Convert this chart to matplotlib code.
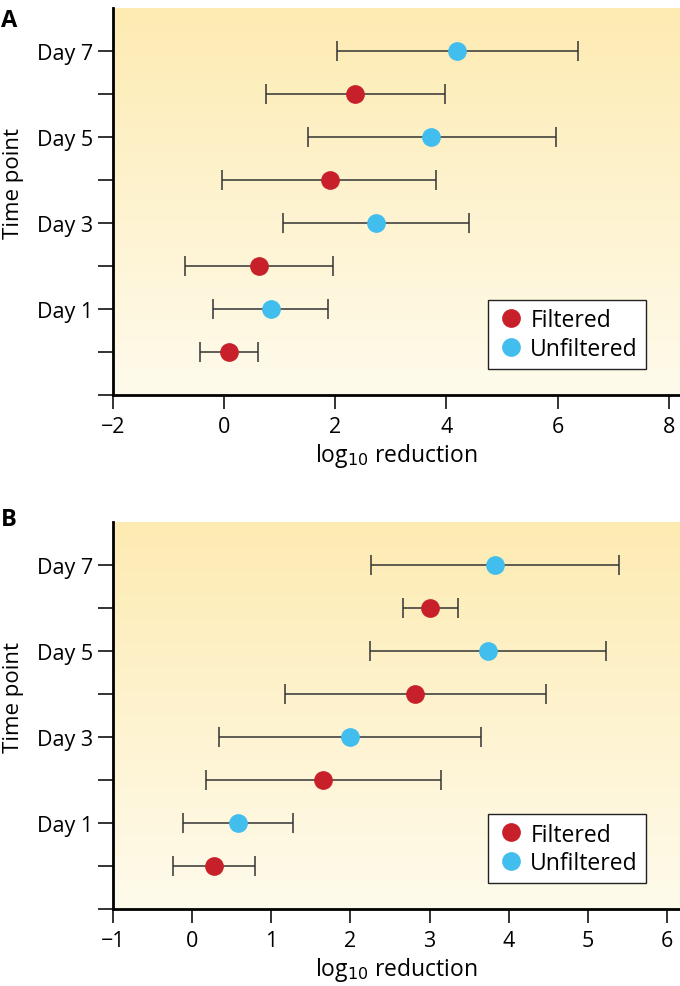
import numpy as np
import matplotlib
matplotlib.use("Agg")
import matplotlib.pyplot as plt
from matplotlib.lines import Line2D
from matplotlib.colors import LinearSegmentedColormap

plt.rcParams['font.family'] = ['Open Sans', 'DejaVu Sans']

# ---- data ----
ytick_labels = ["", "", "Day 1", "", "Day 3", "", "Day 5", "", "Day 7"]

# Panel A
a_filt_y = [1, 3, 5, 7]
a_filt_x = [0.10, 0.63, 1.90, 2.36]
a_filt_lo = [-0.43, -0.70, -0.03, 0.75]
a_filt_hi = [0.62, 1.97, 3.81, 3.98]
a_unf_y = [2, 4, 6, 8]
a_unf_x = [0.84, 2.73, 3.73, 4.19]
a_unf_lo = [-0.19, 1.07, 1.51, 2.03]
a_unf_hi = [1.87, 4.41, 5.97, 6.36]

# Panel B
b_filt_y = [1, 3, 5, 7]
b_filt_x = [0.28, 1.65, 2.82, 3.01]
b_filt_lo = [-0.24, 0.18, 1.17, 2.66]
b_filt_hi = [0.80, 3.14, 4.47, 3.36]
b_unf_y = [2, 4, 6, 8]
b_unf_x = [0.58, 2.00, 3.74, 3.82]
b_unf_lo = [-0.11, 0.34, 2.25, 2.26]
b_unf_hi = [1.27, 3.65, 5.23, 5.39]

RED = "#c8202a"
BLUE = "#41bdee"
ERR = "#333333"

fig = plt.figure(figsize=(6.8, 9.87), dpi=100)

cmap = LinearSegmentedColormap.from_list("bg", ["#fffbec", "#fdebb2"])


def panel(ax, xlim, xticks, fy, fx, flo, fhi, uy, ux, ulo, uhi):
    ax.set_xlim(*xlim)
    ax.set_ylim(0, 9)
    grad = np.linspace(0, 1, 256).reshape(-1, 1)
    ax.imshow(grad, cmap=cmap, origin="lower", aspect="auto",
              extent=[xlim[0], xlim[1], 0, 9], zorder=0)
    for ys, xs, lo, hi, c in [(fy, fx, flo, fhi, RED), (uy, ux, ulo, uhi, BLUE)]:
        xs = np.array(xs); lo = np.array(lo); hi = np.array(hi)
        ax.errorbar(xs, ys, xerr=[xs - lo, hi - xs], fmt="none", ecolor=ERR,
                    elinewidth=1.1, capsize=7, capthick=1.1, zorder=2)
        ax.plot(xs, ys, "o", color=c, markersize=13.5, markeredgewidth=0, zorder=3)
    ax.set_yticks(range(9))
    ax.set_yticklabels(ytick_labels, fontsize=15.5)
    ax.set_xticks(xticks)
    ax.set_xticklabels([str(t).replace("-", "\u2212") for t in xticks], fontsize=15.5)
    for s in ["top", "right"]:
        ax.spines[s].set_visible(False)
    for s in ["left", "bottom"]:
        ax.spines[s].set_linewidth(2)
        ax.spines[s].set_zorder(4)
    ax.tick_params(axis="y", direction="out", length=11, width=1.2, color="#111111", pad=3)
    ax.tick_params(axis="x", direction="out", length=10, width=1.2, color="#111111", pad=5)
    ax.set_ylabel("Time point", fontsize=16)
    ax.yaxis.set_label_coords(-0.157, 0.55)
    ax.set_xlabel("log$_{10}$ reduction", fontsize=16.5, labelpad=3)
    handles = [Line2D([], [], marker="o", ls="", color=RED, markersize=13.5, markeredgewidth=0),
               Line2D([], [], marker="o", ls="", color=BLUE, markersize=13.5, markeredgewidth=0)]
    leg = ax.legend(handles, ["Filtered", "Unfiltered"], loc="lower right",
                    bbox_to_anchor=(0.94, 0.067), borderaxespad=0, fontsize=16.5,
                    fancybox=False, edgecolor="#222222", framealpha=1,
                    handletextpad=0.2, labelspacing=0.2, borderpad=0.35,
                    handlelength=1.3)
    leg.get_frame().set_linewidth(1.0)
    leg.set_zorder(5)


axA = fig.add_axes([0.1657, 0.5988, 0.8343, 0.3921])
panel(axA, (-2, 8.2), [-2, 0, 2, 4, 6, 8], a_filt_y, a_filt_x, a_filt_lo, a_filt_hi,
      a_unf_y, a_unf_x, a_unf_lo, a_unf_hi)

axB = fig.add_axes([0.1657, 0.0780, 0.8343, 0.3918])
panel(axB, (-1, 6.16), [-1, 0, 1, 2, 3, 4, 5, 6], b_filt_y, b_filt_x, b_filt_lo, b_filt_hi,
      b_unf_y, b_unf_x, b_unf_lo, b_unf_hi)

fig.text(0.002, 0.991, "A", fontsize=17, fontweight="bold", va="top", ha="left")
fig.text(0.002, 0.485, "B", fontsize=17, fontweight="bold", va="top", ha="left")

fig.savefig("out.png", dpi=100)
